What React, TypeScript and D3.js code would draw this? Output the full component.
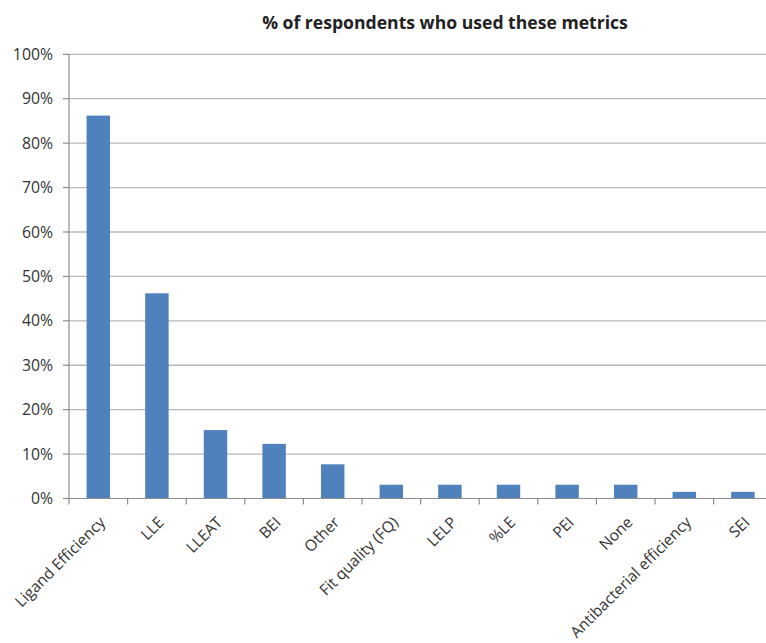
import React, { useEffect, useRef } from "react";
import * as d3 from "d3";

const categories = [
  "Ligand Efficiency",
  "LLE",
  "LLEAT",
  "BEI",
  "Other",
  "Fit quality (FQ)",
  "LELP",
  "%LE",
  "PEI",
  "None",
  "Antibacterial efficiency",
  "SEI",
];
const values = [86.2, 46.2, 15.4, 12.3, 7.7, 3.1, 3.1, 3.1, 3.1, 3.1, 1.5, 1.5];
const yTicks = [0, 10, 20, 30, 40, 50, 60, 70, 80, 90, 100];
const title = "% of respondents who used these metrics";

const W = 766;
const H = 643;
const FONT = "'Open Sans', 'Liberation Sans', sans-serif";

export default function App() {
  const ref = useRef<SVGSVGElement>(null);
  useEffect(() => {
    const svg = d3.select(ref.current);
    svg.selectAll("*").remove();
    const left = 69;
    const catW = 58.6;
    const x = d3
      .scaleBand<string>()
      .domain(categories)
      .range([left, left + catW * categories.length])
      .paddingInner(0.6)
      .paddingOuter(0.3);
    const y = d3.scaleLinear().domain([0, 100]).range([498.5, 54.3]);

    svg
      .append("text")
      .attr("x", 445)
      .attr("y", 29)
      .attr("text-anchor", "middle")
      .attr("font-family", FONT)
      .attr("font-weight", "bold")
      .attr("font-size", 17.6)
      .attr("fill", "#222")
      .text(title);

    // gridlines
    svg
      .append("g")
      .selectAll("line")
      .data(yTicks.filter((t) => t > 0))
      .join("line")
      .attr("x1", left)
      .attr("x2", W)
      .attr("y1", (d) => y(d))
      .attr("y2", (d) => y(d))
      .attr("stroke", "#b8b8b8")
      .attr("stroke-width", 1.3);

    // bars
    svg
      .append("g")
      .selectAll("rect")
      .data(values)
      .join("rect")
      .attr("x", (_, i) => x(categories[i])!)
      .attr("width", x.bandwidth())
      .attr("y", (d) => y(d))
      .attr("height", (d) => y(0) - y(d))
      .attr("fill", "#4f81bd");

    // y axis
    const gy = svg.append("g");
    gy.append("line")
      .attr("x1", left)
      .attr("x2", left)
      .attr("y1", y(100))
      .attr("y2", y(0))
      .attr("stroke", "#8c8c8c")
      .attr("stroke-width", 1.2);
    gy.selectAll("line.t")
      .data(yTicks)
      .join("line")
      .attr("class", "t")
      .attr("x1", left - 6)
      .attr("x2", left)
      .attr("y1", (d) => y(d))
      .attr("y2", (d) => y(d))
      .attr("stroke", "#8c8c8c")
      .attr("stroke-width", 1.2);
    gy.selectAll("text")
      .data(yTicks)
      .join("text")
      .attr("x", 53)
      .attr("y", (d) => y(d))
      .attr("dy", "0.35em")
      .attr("text-anchor", "end")
      .attr("font-family", FONT)
      .attr("font-size", 15.8)
      .attr("fill", "#333")
      .text((d) => d + "%");

    // x axis
    const gx = svg.append("g");
    gx.append("line")
      .attr("x1", left)
      .attr("x2", W)
      .attr("y1", y(0))
      .attr("y2", y(0))
      .attr("stroke", "#8c8c8c")
      .attr("stroke-width", 1.2);
    const bounds = d3.range(categories.length + 1).map((i) => left + i * catW);
    gx.selectAll("line.t")
      .data(bounds)
      .join("line")
      .attr("class", "t")
      .attr("x1", (d) => d)
      .attr("x2", (d) => d)
      .attr("y1", y(0))
      .attr("y2", y(0) + 6)
      .attr("stroke", "#8c8c8c")
      .attr("stroke-width", 1.2);
    gx.selectAll("text")
      .data(categories)
      .join("text")
      .attr(
        "transform",
        (d) => `translate(${x(d)! + x.bandwidth() / 2 + 4},${y(0) + 21}) rotate(-45)`
      )
      .attr("text-anchor", "end")
      .attr("dy", "0.35em")
      .attr("font-family", FONT)
      .attr("font-size", 15.5)
      .attr("fill", "#333")
      .text((d) => d);
  }, []);
  return (
    <svg
      ref={ref}
      width={W}
      height={H}
      style={{ position: "absolute", left: 0, top: 0, background: "#fff" }}
    />
  );
}
